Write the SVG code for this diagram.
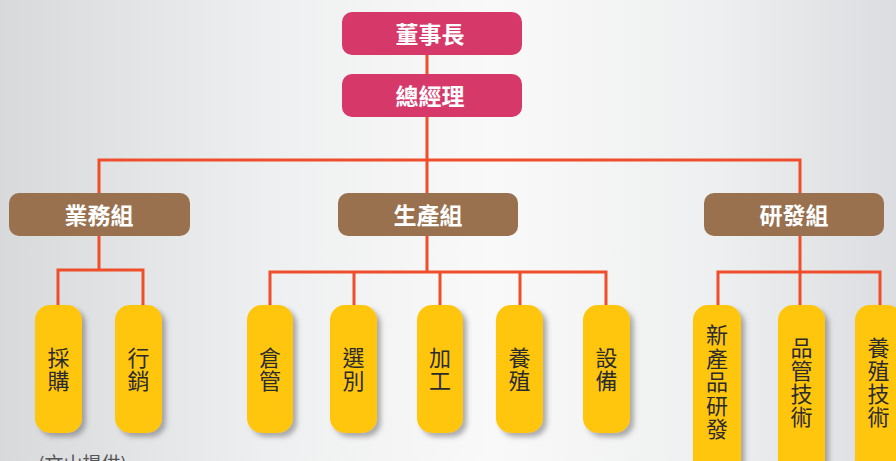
<svg xmlns="http://www.w3.org/2000/svg" width="896" height="461" viewBox="0 0 896 461">
<defs>
<linearGradient id="bg" x1="0" y1="0" x2="1" y2="0">
<stop offset="0" stop-color="#d8d9db"/>
<stop offset="0.3" stop-color="#eeeff0"/>
<stop offset="0.55" stop-color="#f9f9f9"/>
<stop offset="0.8" stop-color="#eeeff0"/>
<stop offset="1" stop-color="#dcdde0"/>
</linearGradient>
<filter id="sh" x="-30%" y="-10%" width="160%" height="130%">
<feDropShadow dx="4" dy="4" stdDeviation="2.5" flood-color="#555" flood-opacity="0.45"/>
</filter>
</defs>
<style>
.top{fill:#d6386a}
.grp{fill:#99714f}
.leaf{fill:#ffc60a;filter:url(#sh)}
.tw{font-family:"Noto Sans CJK TC","Noto Sans CJK SC",sans-serif;font-weight:bold;font-size:23px;fill:#fff;text-anchor:middle}
.tl{font-family:"Noto Sans CJK TC","Noto Sans CJK SC",sans-serif;font-size:22px;fill:#2b2b2b;text-anchor:middle}
.ln{fill:none;stroke:#f04e2a;stroke-width:3}
</style>
<rect width="896" height="461" fill="url(#bg)"/>
<g id="connectors" class="ln">
<path d="M427 55V74M427 117V193M99 160H800M99 158.5V193M800 158.5V193"/>
<path d="M99 236V270M58 305V270H143V305"/>
<path d="M427 236V272M270 305V272H606V305M354 272V305M440 272V305M520 272V305"/>
<path d="M800 236V272M718 305V272H880V305M800 272V305"/>
</g>
<g id="n-chairman"><rect class="top" x="342" y="12" width="180" height="43" rx="10"/><text class="tw" x="430" y="43">董事長</text></g>
<g id="n-gm"><rect class="top" x="342" y="74" width="180" height="43" rx="10"/><text class="tw" x="430" y="105">總經理</text></g>
<g id="n-sales"><rect class="grp" x="9" y="193" width="181" height="43" rx="10"/><text class="tw" x="99" y="224">業務組</text></g>
<g id="n-prod"><rect class="grp" x="338" y="193" width="180" height="43" rx="10"/><text class="tw" x="428" y="224">生產組</text></g>
<g id="n-rd"><rect class="grp" x="704" y="193" width="180" height="43" rx="10"/><text class="tw" x="794" y="224">研發組</text></g>
<g id="n-buy"><rect class="leaf" x="35" y="305" width="47" height="128" rx="15"/><text class="tl" x="58.5" y="366">採</text><text class="tl" x="58.5" y="389">購</text></g>
<g id="n-mkt"><rect class="leaf" x="115" y="305" width="47" height="128" rx="15"/><text class="tl" x="138.5" y="366">行</text><text class="tl" x="138.5" y="389">銷</text></g>
<g id="n-store"><rect class="leaf" x="247" y="305" width="46" height="128" rx="15"/><text class="tl" x="270" y="366">倉</text><text class="tl" x="270" y="389">管</text></g>
<g id="n-sort"><rect class="leaf" x="330" y="305" width="47" height="128" rx="15"/><text class="tl" x="353.5" y="366">選</text><text class="tl" x="353.5" y="389">別</text></g>
<g id="n-proc"><rect class="leaf" x="417" y="305" width="46" height="128" rx="15"/><text class="tl" x="440" y="366">加</text><text class="tl" x="440" y="389">工</text></g>
<g id="n-farm"><rect class="leaf" x="496" y="305" width="47" height="128" rx="15"/><text class="tl" x="519.5" y="366">養</text><text class="tl" x="519.5" y="389">殖</text></g>
<g id="n-equip"><rect class="leaf" x="583" y="305" width="47" height="128" rx="15"/><text class="tl" x="606.5" y="366">設</text><text class="tl" x="606.5" y="389">備</text></g>
<g id="n-newprod"><rect class="leaf" x="693" y="305" width="48" height="190" rx="15"/><text class="tl" x="717" y="343">新</text><text class="tl" x="717" y="366.5">產</text><text class="tl" x="717" y="390">品</text><text class="tl" x="717" y="413.5">研</text><text class="tl" x="717" y="437">發</text></g>
<g id="n-qc"><rect class="leaf" x="778" y="305" width="47" height="190" rx="15"/><text class="tl" x="801.5" y="356">品</text><text class="tl" x="801.5" y="379">管</text><text class="tl" x="801.5" y="402">技</text><text class="tl" x="801.5" y="425">術</text></g>
<g id="n-farmtech"><rect class="leaf" x="855" y="305" width="47" height="190" rx="15"/><text class="tl" x="878.5" y="356">養</text><text class="tl" x="878.5" y="379">殖</text><text class="tl" x="878.5" y="402">技</text><text class="tl" x="878.5" y="425">術</text></g>
<text x="38" y="471" font-family="'Noto Sans CJK TC','Noto Sans CJK SC',sans-serif" font-size="19" fill="#555">(文山提供)</text>
</svg>
